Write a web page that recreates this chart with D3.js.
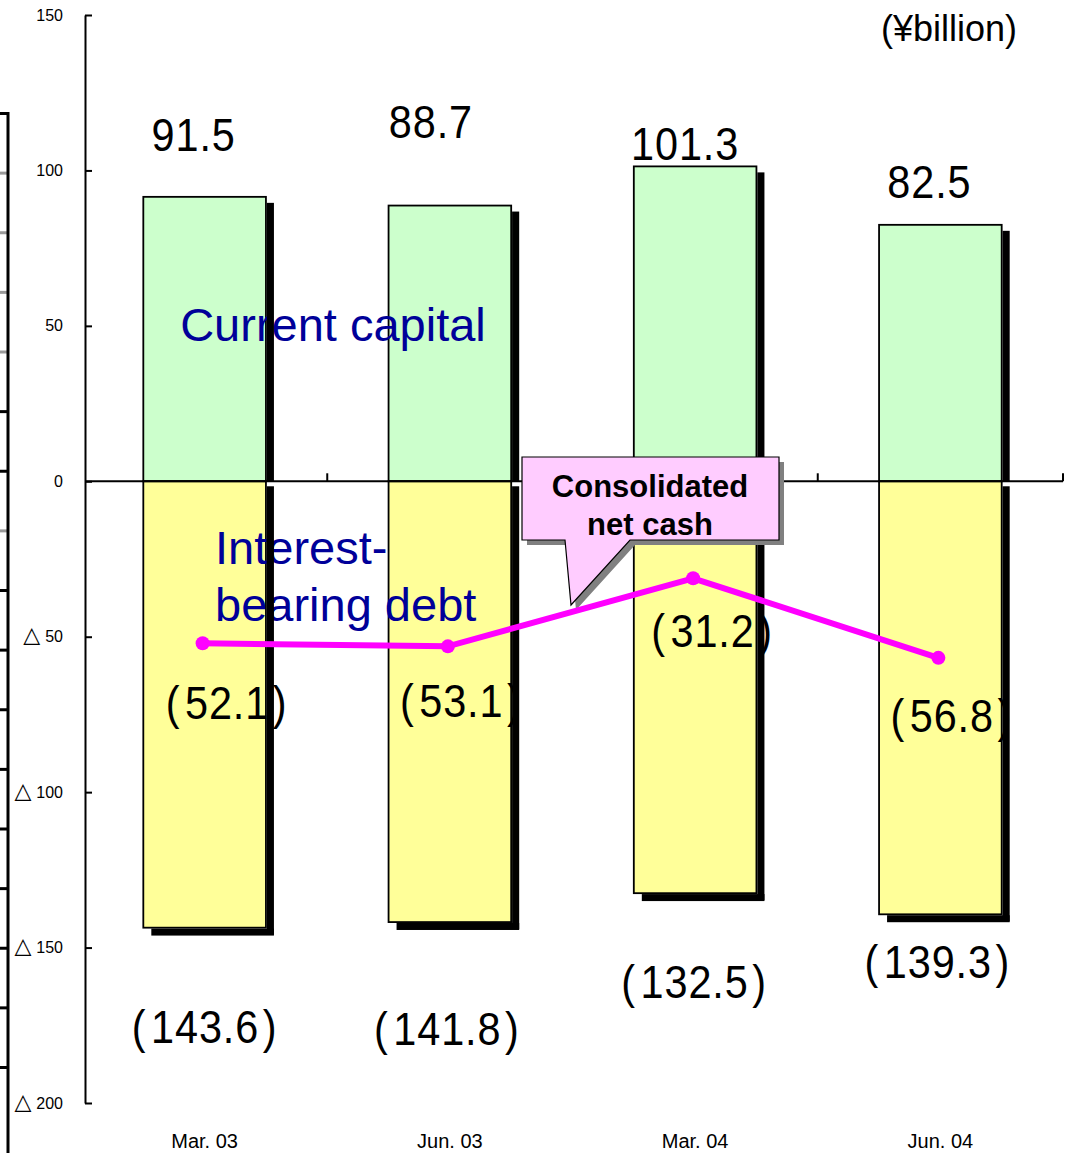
<!DOCTYPE html>
<html>
<head>
<meta charset="utf-8">
<script src="https://cdn.jsdelivr.net/npm/d3@7"></script>
<style>
  body { margin: 0; background: #fff; }
  text { font-family: "Liberation Sans", Arial, Helvetica, sans-serif; }
</style>
</head>
<body>
<div id="chart"></div>
<script>
// Data (¥billion)
const categories = ["Mar. 03", "Jun. 03", "Mar. 04", "Jun. 04"];
const currentCapital = [91.5, 88.7, 101.3, 82.5];
const interestDebt = [-143.6, -141.8, -132.5, -139.3];
const netCash = [-52.1, -53.1, -31.2, -56.8];
const yTicks = [150, 100, 50, 0, -50, -100, -150, -200];

// Hand-placed label nudges (px), like the original slide
const capNudge = [[-11, -46], [-19, -68], [-10, -6], [-11, -27]];
const cashNudge = [[22, 76], [11, 71], [17, 69], [11, 74]];
const debtNudge = [[0, 115], [-3, 123], [-1, 105], [-3, 64]];

const W = 1072, H = 1153;

const svg = d3.select("#chart")
  .append("svg")
    .attr("width", W)
    .attr("height", H);

// Scales
const x = d3.scaleBand()
    .domain(categories)
    .range([82, 1063])
    .padding(0);
const y = d3.scaleLinear()
    .domain([-200, 150])
    .range([1103, 15]);

const bw = x.bandwidth() * 0.5;
const bx = c => x(c) + x.bandwidth() / 2 - bw / 2;
const cx = c => x(c) + x.bandwidth() / 2;

// Stray axis of the neighbouring chart at the left edge
const yStray = d3.scaleLinear().domain([0, 16]).range([113, 1067]);
const strayAxis = svg.append("g")
    .attr("transform", "translate(8.5,0)")
    .call(d3.axisLeft(yStray).ticks(16).tickSize(9).tickSizeOuter(0).tickFormat(""));
strayAxis.select(".domain").remove();
strayAxis.selectAll("line").attr("stroke-width", 3)
    .attr("stroke", (d, i) => [1, 2, 3, 4, 7].includes(i) ? "#999" : "#000");
svg.append("line")
    .attr("x1", 8).attr("x2", 8)
    .attr("y1", 112).attr("y2", H)
    .attr("stroke", "#000").attr("stroke-width", 3);

// Bars - fills
const bars = svg.append("g");
bars.selectAll("rect.cap")
  .data(categories)
  .enter().append("rect")
    .attr("class", "cap")
    .attr("x", d => bx(d))
    .attr("y", (d, i) => y(currentCapital[i]))
    .attr("width", bw)
    .attr("height", (d, i) => y(0) - y(currentCapital[i]))
    .attr("fill", "#CCFFCC")
    .attr("stroke", "#000")
    .attr("stroke-width", 1.8);
bars.selectAll("rect.debt")
  .data(categories)
  .enter().append("rect")
    .attr("class", "debt")
    .attr("x", d => bx(d))
    .attr("y", y(0))
    .attr("width", bw)
    .attr("height", (d, i) => y(interestDebt[i]) - y(0))
    .attr("fill", "#FFFF99")
    .attr("stroke", "#000")
    .attr("stroke-width", 1.8);

// Series names
svg.append("text")
    .attr("x", 333).attr("y", 341)
    .attr("text-anchor", "middle")
    .attr("font-size", 47)
    .attr("fill", "#000099")
    .text("Current capital");
svg.append("text")
    .attr("x", 215).attr("y", 564)
    .attr("font-size", 47)
    .attr("fill", "#000099")
    .text("Interest-");
svg.append("text")
    .attr("x", 215).attr("y", 621)
    .attr("font-size", 47)
    .attr("fill", "#000099")
    .text("bearing debt");

// Value labels
function valueLabel(g, xp, yp, txt) {
  g.append("text")
      .attr("transform", `translate(${xp},${yp}) scale(0.9,1)`)
      .attr("text-anchor", "middle")
      .attr("font-size", 46)
      .attr("letter-spacing", 1)
      .attr("fill", "#000")
      .text(txt);
}
function parenLabel(g, xp, yp, v) {
  const t = g.append("text")
      .attr("transform", `translate(${xp},${yp}) scale(0.9,1)`)
      .attr("text-anchor", "middle")
      .attr("font-size", 46)
      .attr("letter-spacing", 1)
      .attr("fill", "#000");
  t.append("tspan").text("(");
  t.append("tspan").attr("dx", 5).text(v.toFixed(1));
  t.append("tspan").attr("dx", 4).text(")");
}
const labels = svg.append("g");
categories.forEach((c, i) => {
  valueLabel(labels, cx(c) + capNudge[i][0], y(currentCapital[i]) + capNudge[i][1], currentCapital[i].toFixed(1));
  parenLabel(labels, cx(c) + cashNudge[i][0], y(netCash[i]) + cashNudge[i][1], -netCash[i]);
  parenLabel(labels, cx(c) + debtNudge[i][0], y(interestDebt[i]) + debtNudge[i][1], -interestDebt[i]);
});

// Bar shadows (drawn over the labels, as in the slide)
const sdx = 8, sdy = 7;
const shadows = svg.append("g").attr("fill", "#000");
shadows.selectAll("rect.sc")
  .data(categories)
  .enter().append("rect")
    .attr("x", d => bx(d) + bw + 0.9)
    .attr("y", (d, i) => y(currentCapital[i]) + sdy - 1)
    .attr("width", sdx - 0.9)
    .attr("height", (d, i) => y(0) - y(currentCapital[i]) - sdy + 1);
shadows.selectAll("rect.sd")
  .data(categories)
  .enter().append("rect")
    .attr("x", d => bx(d) + bw + 0.9)
    .attr("y", y(0) + 5)
    .attr("width", sdx - 0.9)
    .attr("height", (d, i) => y(interestDebt[i]) - y(0) + sdy - 5);
shadows.selectAll("rect.sb")
  .data(categories)
  .enter().append("rect")
    .attr("x", d => bx(d) + sdx)
    .attr("y", (d, i) => y(interestDebt[i]) + 0.9)
    .attr("width", bw)
    .attr("height", sdy);

// Y axis
const yAxis = svg.append("g")
    .attr("transform", "translate(85,0)")
    .call(d3.axisLeft(y)
      .tickValues(yTicks)
      .tickSize(-7)
      .tickSizeOuter(0)
      .tickPadding(22)
      .tickFormat(""));
yAxis.selectAll("line, path").attr("stroke", "#000").attr("stroke-width", 2);
yAxis.selectAll(".tick text").each(function(d) {
  const t = d3.select(this)
      .attr("font-size", 16)
      .attr("font-family", "'Liberation Sans', Arial, sans-serif")
      .attr("fill", "#000");
  if (d < 0) {
    t.append("tspan")
        .attr("font-family", "'DejaVu Sans', sans-serif")
        .attr("font-size", 22)
        .text("△");
    t.append("tspan").attr("dx", 5).text(-d);
  } else {
    t.text(d);
  }
});

// Zero line with category ticks
const zero = svg.append("g");
zero.append("line")
    .attr("x1", 85).attr("x2", x.range()[1])
    .attr("y1", y(0)).attr("y2", y(0))
    .attr("stroke", "#000").attr("stroke-width", 2);
zero.selectAll("line.tk")
  .data(categories)
  .enter().append("line")
    .attr("x1", d => x(d) + x.bandwidth())
    .attr("x2", d => x(d) + x.bandwidth())
    .attr("y1", y(0)).attr("y2", y(0) - 8)
    .attr("stroke", "#000").attr("stroke-width", 2);

// Category labels
svg.append("g").selectAll("text")
  .data(categories)
  .enter().append("text")
    .attr("x", d => cx(d))
    .attr("y", 1148)
    .attr("text-anchor", "middle")
    .attr("font-size", 20)
    .attr("fill", "#000")
    .text(d => d);

// Unit
svg.append("text")
    .attr("x", 1017).attr("y", 41)
    .attr("text-anchor", "end")
    .attr("font-size", 36)
    .attr("fill", "#000")
    .text("(¥billion)");

// Callout "Consolidated net cash"
const callout = "M522,457 H779 V540 H630 L571,605 L565,540 H522 Z";
svg.append("path")
    .attr("d", callout)
    .attr("transform", "translate(5,5)")
    .attr("fill", "#808080");
svg.append("path")
    .attr("d", callout)
    .attr("fill", "#FFCCFF")
    .attr("stroke", "#000")
    .attr("stroke-width", 1.2);
svg.append("text")
    .attr("x", 650).attr("y", 497)
    .attr("text-anchor", "middle")
    .attr("font-size", 31)
    .attr("font-weight", "bold")
    .text("Consolidated");
svg.append("text")
    .attr("x", 650).attr("y", 535)
    .attr("text-anchor", "middle")
    .attr("font-size", 31)
    .attr("font-weight", "bold")
    .text("net cash");

// Net cash line
const line = d3.line()
    .x(d => cx(d.c) - 2)
    .y(d => y(d.v));
const pts = categories.map((c, i) => ({ c: c, v: netCash[i] }));
svg.append("path")
    .datum(pts)
    .attr("d", line)
    .attr("fill", "none")
    .attr("stroke", "#FF00FF")
    .attr("stroke-width", 6);
svg.append("g").selectAll("circle")
  .data(pts)
  .enter().append("circle")
    .attr("cx", d => cx(d.c) - 2)
    .attr("cy", d => y(d.v))
    .attr("r", 7)
    .attr("fill", "#FF00FF");
</script>
</body>
</html>
